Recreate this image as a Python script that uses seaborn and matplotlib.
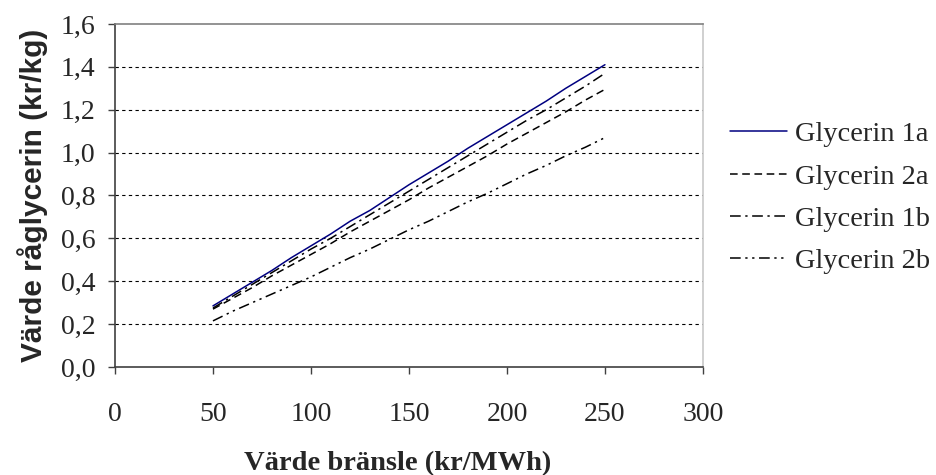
import pandas as pd
import seaborn as sns
import matplotlib.pyplot as plt
import matplotlib.ticker as mtick

# ---- data ----
fuel_value = [50, 60, 70, 80, 90, 100, 110, 120, 130, 140, 150,
              160, 170, 180, 190, 200, 210, 220, 230, 240, 250]
glycerin_1a = [0.285, 0.34, 0.395, 0.45, 0.51, 0.565, 0.62, 0.68, 0.73, 0.79, 0.85,
               0.905, 0.96, 1.02, 1.075, 1.13, 1.185, 1.24, 1.30, 1.355, 1.41]
glycerin_2a = [0.27, 0.32, 0.37, 0.425, 0.475, 0.525, 0.575, 0.63, 0.68, 0.73, 0.78,
               0.835, 0.885, 0.935, 0.985, 1.04, 1.09, 1.14, 1.19, 1.245, 1.295]
glycerin_1b = [0.275, 0.33, 0.385, 0.44, 0.495, 0.55, 0.60, 0.655, 0.71, 0.765, 0.82,
               0.875, 0.93, 0.985, 1.04, 1.095, 1.15, 1.20, 1.255, 1.31, 1.37]
glycerin_2b = [0.215, 0.26, 0.30, 0.34, 0.38, 0.42, 0.465, 0.51, 0.55, 0.595, 0.64,
               0.68, 0.725, 0.77, 0.81, 0.855, 0.90, 0.94, 0.985, 1.025, 1.07]
series_names = ["Glycerin 1a", "Glycerin 2a", "Glycerin 1b", "Glycerin 2b"]

df = pd.DataFrame({
    "bransle": fuel_value * 4,
    "varde": glycerin_1a + glycerin_2a + glycerin_1b + glycerin_2b,
    "serie": [n for n in series_names for _ in fuel_value],
})

sns.set_style("white")
plt.rcParams['font.family'] = ['Liberation Serif', 'DejaVu Serif']

palette = {"Glycerin 1a": "#000080", "Glycerin 2a": "black",
           "Glycerin 1b": "black", "Glycerin 2b": "black"}
dashes = {"Glycerin 1a": "",
          "Glycerin 2a": (5, 3),
          "Glycerin 1b": (7, 3, 1.5, 3),
          "Glycerin 2b": (7, 3, 1.5, 3, 1.5, 3)}

fig = plt.figure(figsize=(9.37, 4.75), dpi=100)
ax = fig.add_axes([0.1227, 0.2274, 0.6275, 0.7221])

ax = sns.lineplot(data=df, x="bransle", y="varde", hue="serie", style="serie",
                  palette=palette, dashes=dashes, linewidth=1.1, ax=ax,
                  legend=True)

ax.set_xlim(0, 300)
ax.set_ylim(0, 1.6)
ax.set_xticks(range(0, 301, 50))
ax.set_yticks([i * 0.2 for i in range(9)])
ax.yaxis.set_major_formatter(mtick.FuncFormatter(lambda v, p: f"{v:.1f}".replace(".", ",")))

# dashed gridlines between 0,2 and 1,4
for yv in [0.2, 0.4, 0.6, 0.8, 1.0, 1.2, 1.4]:
    ax.axhline(yv, color="black", linewidth=0.8, linestyle=(0, (3, 3)), zorder=0)

for side in ["left", "bottom"]:
    ax.spines[side].set_color("#404040")
    ax.spines[side].set_linewidth(1.2)
ax.spines["top"].set_color("#808080")
ax.spines["top"].set_linewidth(1.2)
ax.spines["right"].set_color("#c8c8c8")
ax.spines["right"].set_linewidth(1.2)

ax.tick_params(axis="both", which="major", direction="out", length=5, width=1,
               color="#404040", labelsize=20, bottom=True, left=True)
ax.tick_params(axis="x", pad=20)
ax.tick_params(axis="y", pad=9)

ax.set_xlabel("Värde bränsle (kr/MWh)", fontsize=20.5, fontweight="bold")
ax.xaxis.set_label_coords(0.48, -0.245)
ax.set_ylabel("Värde råglycerin (kr/kg)", fontsize=21.5, fontweight="bold",
              family=["Liberation Sans", "DejaVu Sans"], labelpad=9)

handles, labels = ax.get_legend_handles_labels()
ax.legend(handles, labels, loc="upper left", bbox_to_anchor=(0.779, 0.745),
          bbox_transform=fig.transFigure, frameon=False, fontsize=20.5,
          borderaxespad=0, borderpad=0,
          handlelength=2.0, handletextpad=0.3, labelspacing=0.58)

plt.savefig("out.png", dpi=100)
plt.close()
